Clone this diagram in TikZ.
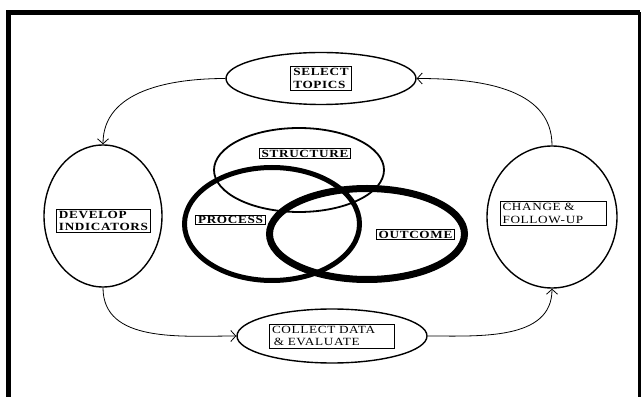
\documentclass[tikz,border=0pt]{standalone}
\usepackage{fontspec}
\setmainfont{Liberation Serif}
\newfontfamily\boxfont[FakeStretch=1.2,LetterSpace=6]{Liberation Serif}
\usepackage{tikz}
\usetikzlibrary{arrows.meta,shapes.geometric}

\begin{document}
\begin{tikzpicture}[x=1pt,y=1pt,
  stage/.style={draw,ellipse,line width=1.4pt,inner sep=0pt},
  lbl/.style={draw,fill=white,line width=0.9pt,inner xsep=2.5pt,inner ysep=2pt,align=left,font=\boxfont\fontsize{11}{12.5}\selectfont},
  boldlbl/.style={lbl,font=\boxfont\bfseries\fontsize{11}{12.5}\selectfont},
  conn/.style={line width=0.8pt,-{Straight Barb[length=5pt,width=11pt]}}]
\useasboundingbox (0,0) rectangle (642,396);
% outer frame, open at the bottom
\draw[line width=5pt] (8,-5) -- (8,383.5) -- (639.5,383.5);
\draw[line width=3pt] (639.5,383.5) -- (639.5,-5);
% cycle of stages
\node[stage,minimum width=190pt,minimum height=52pt] (select) at (321,317.5) {};
\node[stage,minimum width=118pt,minimum height=142pt] (develop) at (103,180) {};
\node[stage,minimum width=130pt,minimum height=142pt] (change) at (552,179) {};
\node[stage,minimum width=190pt,minimum height=54pt] (collect) at (332,60) {};
\node[boldlbl] (selecttxt) at (select) {SELECT\\TOPICS};
\node[boldlbl] (developtxt) at (103.5,175) {DEVELOP\\INDICATORS};
\node[lbl,text width=101pt] (changetxt) at (553,182.5) {CHANGE \&\\FOLLOW-UP};
\node[lbl,text width=120pt] (collecttxt) at (collect) {COLLECT DATA\\ \,\& EVALUATE};
\draw[conn] (select.west) to[out=180,in=90] (develop.north);
\draw[conn] (develop.south) to[out=-90,in=180] (collect.west);
\draw[conn] (collect.east) to[out=0,in=-90] (change.south);
\draw[conn] (change.north) to[out=90,in=0] (select.east);
% the three overlapping parts
\draw[line width=1.8pt] (299,226) ellipse [x radius=85pt,y radius=42pt];
\draw[line width=5pt] (272,172) ellipse [x radius=87.5pt,y radius=56.5pt];
\draw[line width=7pt] (367,162) ellipse [x radius=97.5pt,y radius=45.5pt];
\node[boldlbl,inner ysep=1pt] (structure) at (305,242.5) {STRUCTURE};
\node[boldlbl,inner ysep=1pt] (process) at (230.5,176) {PROCESS};
\node[boldlbl,inner ysep=1pt] (outcome) at (415.5,161.5) {OUTCOME};
\end{tikzpicture}
\end{document}
